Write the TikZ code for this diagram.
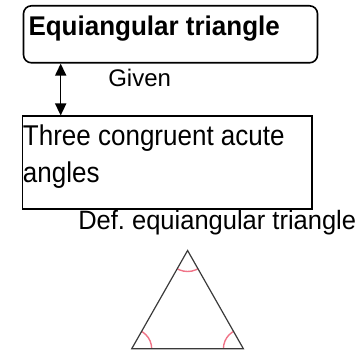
\documentclass[tikz,border=0pt]{standalone}
\usepackage{fontspec}
\setmainfont{Liberation Sans}
\usetikzlibrary{arrows.meta}
\definecolor{anglepink}{HTML}{F07488}
\definecolor{tricol}{HTML}{3A3A3A}
\tikzset{
  boxline/.style={line width=1.6pt, draw=black},
  lbl/.style={anchor=base west, inner sep=0pt, outer sep=0pt},
  bigtxt/.style={font=\fontsize{26}{37}\selectfont},
  triline/.style={draw=tricol, line width=1.2pt, line join=miter},
  arcmark/.style={draw=anglepink, line width=1.4pt}
}
\frenchspacing
\begin{document}
\begin{tikzpicture}[x=1pt,y=-1pt]
\useasboundingbox (0,0) rectangle (360,353);
% top rounded box
\node[boxline, rounded corners=8pt, rectangle, minimum width=294pt, minimum height=57pt, anchor=north west, inner sep=0pt] (top) at (22.7,5) {};
\node[lbl, font=\fontsize{26}{30}\bfseries\selectfont] (toptxt) at (28.5,35.5) {\scalebox{1}[1.04]{Equiangular triangle}};
% bottom box
\node[boxline, rectangle, minimum width=289.5pt, minimum height=92.5pt, anchor=north west, inner sep=0pt] (bot) at (21.7,115.5) {};
\node[lbl, bigtxt] (bt1) at (23,146) {\scalebox{1}[1.1]{Three congruent acute}};
\node[lbl, bigtxt] (bt2) at (23,182.7) {\scalebox{1}[1.1]{angles}};
% arrow
\draw[line width=1.6pt, {Triangle[length=12pt,width=11pt]}-{Triangle[length=12pt,width=11pt]}]
  ([xshift=38pt]top.south west) -- ([xshift=39pt]bot.north west);
\node[lbl, font=\fontsize{24}{28}\selectfont] (given) at (108.3,86.7) {Given};
\node[lbl, font=\fontsize{25.5}{30}\selectfont] (def) at (78.3,229.5) {\scalebox{1}[1.04]{Def. equiangular triangle}};
% triangle
\coordinate (A) at (187.6,250.5);
\coordinate (B) at (131.7,348.8);
\coordinate (C) at (243.4,348.8);
\begin{scope}
\clip (A) -- (B) -- (C) -- cycle;
\draw[arcmark] (A) circle (21pt);
\draw[arcmark] (B) circle (20pt);
\draw[arcmark] (C) circle (20pt);
\end{scope}
\draw[triline] (A) -- (B) -- (C) -- cycle;
\end{tikzpicture}
\end{document}
